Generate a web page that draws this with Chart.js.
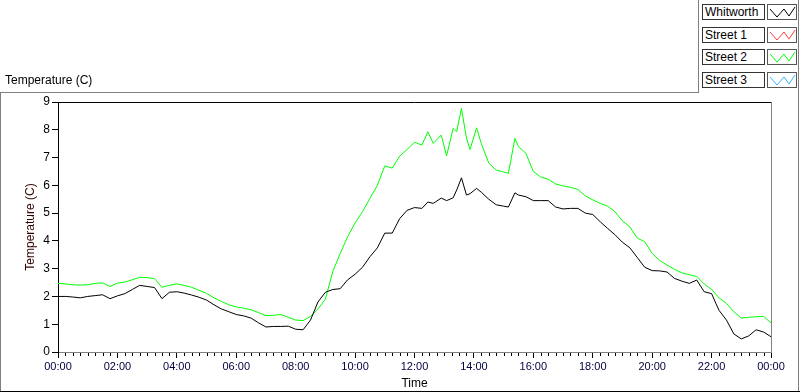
<!DOCTYPE html>
<html>
<head>
<meta charset="utf-8">
<script src="https://cdn.jsdelivr.net/npm/chart.js@4"></script>
<style>
  body { margin: 0; background: #fff; font-family: "Liberation Sans", Arial, sans-serif; }
  #wrap { position: relative; width: 800px; height: 392px; overflow: hidden; background: #fff; }
  #chart { position: absolute; left: 0; top: 0; }
  .line { position: absolute; }
  #title { position: absolute; left: 5px; top: 73px; font-size: 12px; color: #000; }
  .lg-name { position: absolute; left: 702px; width: 59px; height: 14px; border: 1px solid #333;
             font-size: 12px; line-height: 14px; padding-left: 2px; box-sizing: content-box; background: #fff; }
  .lg-icon { position: absolute; left: 767px; width: 28px; height: 14px; border: 1px solid #555; background: #fff; }
</style>
</head>
<body>
<div id="wrap">
  <canvas id="chart" width="800" height="392"></canvas>
  <div id="title">Temperature (C)</div>
  <div id="legend"></div>
</div>
<script>
// time of day in hours
const times = [0, 0.25, 0.5, 0.75, 1, 1.25, 1.5, 1.75, 2, 2.25, 2.5, 2.75, 3, 3.25, 3.5, 3.75,
  4, 4.25, 4.5, 4.75, 5, 5.25, 5.5, 5.75, 6, 6.25, 6.5, 6.75, 7, 7.25, 7.5, 7.75,
  8, 8.25, 8.5, 8.75, 9, 9.25, 9.5, 9.75, 10, 10.25, 10.5, 10.75, 11, 11.25, 11.5, 11.75,
  12, 12.25, 12.45, 12.63, 12.9, 13.08, 13.3, 13.42, 13.58, 13.75, 13.87, 14.09, 14.25, 14.5, 14.75,
  15, 15.16, 15.38, 15.5, 15.75, 16, 16.25, 16.5, 16.75, 17, 17.25, 17.5, 17.75,
  18, 18.25, 18.5, 18.75, 19, 19.25, 19.5, 19.75, 20, 20.25, 20.5, 20.75, 21, 21.25, 21.5, 21.75,
  22, 22.25, 22.5, 22.75, 23, 23.25, 23.5, 23.75, 24];

const whitworth = [2.00, 2.00, 1.98, 1.95, 2.00, 2.03, 2.06, 1.92,
  2.02, 2.10, 2.25, 2.40, 2.36, 2.32, 1.92, 2.15,
  2.17, 2.12, 2.05, 1.97, 1.87, 1.70, 1.55, 1.45,
  1.35, 1.30, 1.22, 1.05, 0.90, 0.92, 0.92, 0.93,
  0.82, 0.80, 1.15, 1.80, 2.15, 2.25, 2.28, 2.60,
  2.80, 3.05, 3.43, 3.75, 4.28, 4.28, 4.80, 5.10,
  5.20, 5.17, 5.40, 5.35, 5.54, 5.45, 5.55, 5.83, 6.27, 5.65, 5.70, 5.89, 5.75, 5.50, 5.30,
  5.25, 5.22, 5.73, 5.65, 5.59, 5.45, 5.45, 5.45, 5.22, 5.15, 5.17, 5.17, 5.00,
  4.95, 4.69, 4.45, 4.22, 3.95, 3.75, 3.40, 3.05, 2.93, 2.92, 2.88, 2.65, 2.55, 2.47, 2.59, 2.17,
  2.10, 1.50, 1.15, 0.65, 0.47, 0.58, 0.80, 0.72, 0.55];

const street2 = [2.47, 2.45, 2.42, 2.41, 2.42, 2.47, 2.49, 2.36,
  2.48, 2.52, 2.60, 2.69, 2.68, 2.64, 2.33, 2.40,
  2.45, 2.40, 2.33, 2.22, 2.11, 1.95, 1.82, 1.70,
  1.62, 1.58, 1.52, 1.42, 1.31, 1.32, 1.35, 1.25,
  1.15, 1.13, 1.28, 1.55, 1.90, 2.90, 3.55, 4.15,
  4.65, 5.05, 5.53, 6.00, 6.70, 6.62, 7.05, 7.29,
  7.55, 7.45, 7.93, 7.51, 7.81, 7.06, 8.05, 7.93, 8.77, 7.70, 7.29, 8.07, 7.50, 6.80, 6.55,
  6.48, 6.43, 7.69, 7.40, 7.15, 6.50, 6.30, 6.22, 6.05, 5.98, 5.93, 5.85, 5.62,
  5.48, 5.35, 5.25, 5.05, 4.72, 4.50, 4.10, 3.97, 3.55, 3.30, 3.13, 2.98, 2.85, 2.78, 2.72, 2.45,
  2.25, 1.95, 1.75, 1.45, 1.22, 1.25, 1.27, 1.28, 1.05];

const street1 = [];
const street3 = [];

const seriesNames = ['Whitworth', 'Street 1', 'Street 2', 'Street 3'];
const seriesColors = ['#000000', '#ff3c3c', '#00ff00', '#33b4ff'];
const yTicks = [0, 1, 2, 3, 4, 5, 6, 7, 8, 9];

function toPoints(values) {
    return values.map((v, i) => ({ x: times[i], y: v }));
}

function hhmm(h) {
    const hr = Math.floor(h) % 24;
    return (hr < 10 ? '0' : '') + hr + ':00';
}

// plot frame lines and short minor ticks on the time axis
const framePlugin = {
    id: 'frame',
    afterDraw(chart) {
        const ctx = chart.ctx;
        const a = chart.chartArea;
        const xs = chart.scales.x;
        ctx.save();
        ctx.lineWidth = 1;
        ctx.strokeStyle = '#000';
        ctx.beginPath();
        ctx.moveTo(a.left, a.top + 0.5);
        ctx.lineTo(a.right, a.top + 0.5);
        ctx.stroke();
        ctx.strokeStyle = '#808080';
        ctx.beginPath();
        ctx.moveTo(a.right + 0.5, a.top);
        ctx.lineTo(a.right + 0.5, a.bottom + 1);
        ctx.stroke();
        ctx.strokeStyle = '#000';
        ctx.beginPath();
        xs.ticks.forEach(t => {
            if (t.value % 2 !== 0) {
                const px = Math.round(xs.getPixelForValue(t.value)) + 0.5;
                ctx.moveTo(px, a.bottom + 1);
                ctx.lineTo(px, a.bottom + 4);
            }
        });
        ctx.stroke();
        ctx.restore();
    }
};

const ctx = document.getElementById('chart').getContext('2d');
new Chart(ctx, {
    type: 'line',
    data: {
        datasets: [
            { label: seriesNames[0], data: toPoints(whitworth), borderColor: seriesColors[0] },
            { label: seriesNames[1], data: toPoints(street1), borderColor: seriesColors[1] },
            { label: seriesNames[2], data: toPoints(street2), borderColor: seriesColors[2] },
            { label: seriesNames[3], data: toPoints(street3), borderColor: seriesColors[3] }
        ].map(d => Object.assign(d, { borderWidth: 1, pointRadius: 0, tension: 0, fill: false }))
    },
    options: {
        responsive: false,
        animation: false,
        devicePixelRatio: 1,
        layout: { padding: { left: 23, right: 29, top: 102, bottom: 0 } },
        plugins: { legend: { display: false }, tooltip: { enabled: false } },
        scales: {
            x: {
                type: 'linear',
                min: 0,
                max: 24,
                afterFit: s => { s.height = 40; },
                border: { color: '#808080', width: 1 },
                grid: {
                    drawOnChartArea: false,
                    tickLength: 6,
                    tickColor: c => (c.tick && c.tick.value % 2 === 0) ? '#000' : 'rgba(0,0,0,0)'
                },
                ticks: {
                    stepSize: 0.25,
                    autoSkip: false,
                    maxRotation: 0,
                    padding: 2,
                    color: '#000040',
                    font: { family: 'Liberation Sans', size: 11 },
                    callback: v => (v % 2 === 0 ? hhmm(v) : '')
                },
                title: {
                    display: true,
                    text: 'Time',
                    color: '#000',
                    padding: { top: 0, bottom: 1 },
                    font: { family: 'Liberation Sans', size: 12 }
                }
            },
            y: {
                min: 0,
                max: 9,
                afterFit: s => { s.width = 35; },
                afterBuildTicks: s => { s.ticks = yTicks.map(v => ({ value: v })); },
                border: { color: '#000', width: 1 },
                grid: { drawOnChartArea: false, tickLength: 6, tickColor: '#000' },
                ticks: {
                    padding: 2,
                    color: '#000',
                    font: { family: 'Liberation Sans', size: 12 }
                },
                title: {
                    display: true,
                    text: 'Temperature (C)',
                    color: '#330000',
                    padding: 0,
                    font: { family: 'Liberation Sans', size: 12 }
                }
            }
        }
    },
    plugins: [framePlugin]
});

// outer frame and legend panel
const wrap = document.getElementById('wrap');
function addLine(l, t, w, h, c) {
    const d = document.createElement('div');
    d.className = 'line';
    d.style.cssText = `left:${l}px;top:${t}px;width:${w}px;height:${h}px;background:${c}`;
    wrap.appendChild(d);
}
addLine(0, 92, 698, 1, '#808080');
addLine(0, 92, 1, 300, '#808080');
addLine(698, 0, 1, 93, '#808080');
addLine(798, 0, 1, 392, '#808080');
addLine(0, 391, 800, 1, '#000');

const legend = document.getElementById('legend');
seriesNames.forEach((name, i) => {
    const top = 4 + i * 22.7;
    const n = document.createElement('div');
    n.className = 'lg-name';
    n.style.top = Math.round(top) + 'px';
    n.textContent = name;
    legend.appendChild(n);
    const ic = document.createElement('div');
    ic.className = 'lg-icon';
    ic.style.top = Math.round(top) + 'px';
    ic.innerHTML = `<svg width="28" height="14"><polyline points="2,4 9,12 16,4 21,11 27,2" fill="none" stroke="${seriesColors[i]}" stroke-width="1"/></svg>`;
    legend.appendChild(ic);
});
</script>
</body>
</html>
